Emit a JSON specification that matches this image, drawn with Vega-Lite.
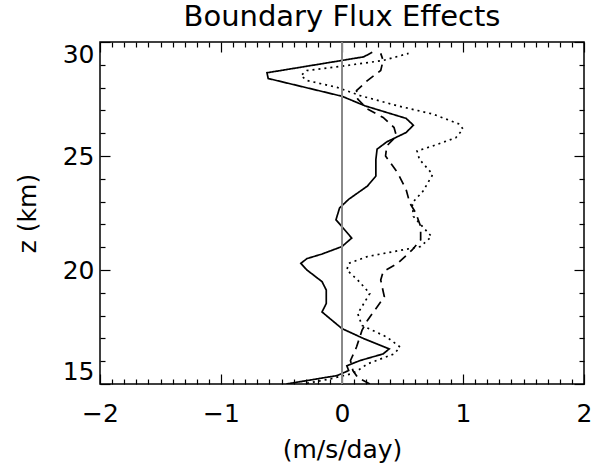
{
  "$schema": "https://vega.github.io/schema/vega-lite/v6.json",
  "width": 484,
  "height": 342,
  "autosize": "none",
  "padding": {"left": 100, "top": 42, "right": 16, "bottom": 81},
  "background": "white",
  "title": {"text": "Boundary Flux Effects", "fontSize": 29, "font": "DejaVu Sans", "fontWeight": "normal", "color": "black", "offset": 9},
  "config": {
    "view": {"stroke": "black", "strokeWidth": 1.5},
    "axis": {"domain": false, "grid": false, "tickColor": "black", "tickWidth": 1.2, "labelColor": "black", "titleColor": "black", "labelFont": "DejaVu Sans", "titleFont": "DejaVu Sans", "labelFontSize": 25, "titleFontSize": 25, "titleFontWeight": "normal"}
  },
  "datasets": {
    "curves": [
      {"s": "solid", "z": 29.55, "x": 0.25},
      {"s": "solid", "z": 29.35, "x": 0.18},
      {"s": "solid", "z": 29.2, "x": 0.01},
      {"s": "solid", "z": 28.65, "x": -0.62},
      {"s": "solid", "z": 28.4, "x": -0.61},
      {"s": "solid", "z": 27.62, "x": 0.0},
      {"s": "solid", "z": 27.2, "x": 0.19},
      {"s": "solid", "z": 26.65, "x": 0.53},
      {"s": "solid", "z": 26.35, "x": 0.59},
      {"s": "solid", "z": 26.03, "x": 0.53},
      {"s": "solid", "z": 25.62, "x": 0.37},
      {"s": "solid", "z": 25.3, "x": 0.29},
      {"s": "solid", "z": 24.85, "x": 0.28},
      {"s": "solid", "z": 24.12, "x": 0.28},
      {"s": "solid", "z": 23.68, "x": 0.21},
      {"s": "solid", "z": 23.1, "x": 0.055},
      {"s": "solid", "z": 22.72, "x": -0.02},
      {"s": "solid", "z": 22.2, "x": -0.05},
      {"s": "solid", "z": 21.9, "x": 0.0},
      {"s": "solid", "z": 21.4, "x": 0.08},
      {"s": "solid", "z": 21.03, "x": 0.0},
      {"s": "solid", "z": 20.7, "x": -0.165},
      {"s": "solid", "z": 20.5, "x": -0.29},
      {"s": "solid", "z": 20.29, "x": -0.34},
      {"s": "solid", "z": 20.0, "x": -0.29},
      {"s": "solid", "z": 19.49, "x": -0.165},
      {"s": "solid", "z": 19.12, "x": -0.13},
      {"s": "solid", "z": 18.53, "x": -0.13},
      {"s": "solid", "z": 18.16, "x": -0.165},
      {"s": "solid", "z": 17.87, "x": -0.1},
      {"s": "solid", "z": 17.43, "x": 0.0},
      {"s": "solid", "z": 16.99, "x": 0.18},
      {"s": "solid", "z": 16.54, "x": 0.39},
      {"s": "solid", "z": 16.32, "x": 0.34},
      {"s": "solid", "z": 16.03, "x": 0.15},
      {"s": "solid", "z": 15.8, "x": 0.04},
      {"s": "solid", "z": 15.59, "x": 0.055},
      {"s": "solid", "z": 15.37, "x": -0.04},
      {"s": "solid", "z": 15.15, "x": -0.29},
      {"s": "solid", "z": 15.0, "x": -0.46},
      {"s": "dashed", "z": 29.5, "x": 0.32},
      {"s": "dashed", "z": 29.19, "x": 0.34},
      {"s": "dashed", "z": 28.75, "x": 0.32},
      {"s": "dashed", "z": 28.31, "x": 0.21},
      {"s": "dashed", "z": 27.87, "x": 0.12},
      {"s": "dashed", "z": 27.5, "x": 0.13},
      {"s": "dashed", "z": 27.06, "x": 0.21},
      {"s": "dashed", "z": 26.69, "x": 0.34},
      {"s": "dashed", "z": 26.25, "x": 0.43},
      {"s": "dashed", "z": 25.88, "x": 0.45},
      {"s": "dashed", "z": 25.44, "x": 0.37},
      {"s": "dashed", "z": 25.0, "x": 0.36},
      {"s": "dashed", "z": 24.26, "x": 0.46},
      {"s": "dashed", "z": 23.53, "x": 0.53},
      {"s": "dashed", "z": 22.94, "x": 0.56},
      {"s": "dashed", "z": 22.5, "x": 0.61},
      {"s": "dashed", "z": 21.91, "x": 0.65},
      {"s": "dashed", "z": 21.32, "x": 0.65},
      {"s": "dashed", "z": 20.88, "x": 0.58},
      {"s": "dashed", "z": 20.29, "x": 0.46},
      {"s": "dashed", "z": 19.93, "x": 0.34},
      {"s": "dashed", "z": 19.56, "x": 0.32},
      {"s": "dashed", "z": 18.82, "x": 0.35},
      {"s": "dashed", "z": 18.38, "x": 0.29},
      {"s": "dashed", "z": 17.79, "x": 0.21},
      {"s": "dashed", "z": 17.35, "x": 0.165},
      {"s": "dashed", "z": 16.62, "x": 0.12},
      {"s": "dashed", "z": 16.03, "x": 0.07},
      {"s": "dashed", "z": 15.59, "x": 0.09},
      {"s": "dashed", "z": 15.29, "x": 0.13},
      {"s": "dashed", "z": 15.0, "x": 0.23},
      {"s": "dotted", "z": 29.5, "x": 0.55},
      {"s": "dotted", "z": 29.19, "x": 0.34},
      {"s": "dotted", "z": 28.97, "x": 0.04},
      {"s": "dotted", "z": 28.75, "x": -0.29},
      {"s": "dotted", "z": 28.53, "x": -0.34},
      {"s": "dotted", "z": 28.31, "x": -0.29},
      {"s": "dotted", "z": 28.01, "x": -0.04},
      {"s": "dotted", "z": 27.65, "x": 0.15},
      {"s": "dotted", "z": 27.2, "x": 0.46},
      {"s": "dotted", "z": 26.84, "x": 0.75},
      {"s": "dotted", "z": 26.4, "x": 0.97},
      {"s": "dotted", "z": 26.18, "x": 1.0},
      {"s": "dotted", "z": 25.8, "x": 0.94},
      {"s": "dotted", "z": 25.44, "x": 0.75},
      {"s": "dotted", "z": 25.22, "x": 0.62},
      {"s": "dotted", "z": 24.85, "x": 0.64},
      {"s": "dotted", "z": 24.19, "x": 0.75},
      {"s": "dotted", "z": 23.46, "x": 0.67},
      {"s": "dotted", "z": 22.94, "x": 0.58},
      {"s": "dotted", "z": 22.35, "x": 0.59},
      {"s": "dotted", "z": 21.76, "x": 0.69},
      {"s": "dotted", "z": 21.47, "x": 0.74},
      {"s": "dotted", "z": 21.03, "x": 0.65},
      {"s": "dotted", "z": 20.59, "x": 0.21},
      {"s": "dotted", "z": 20.29, "x": 0.055},
      {"s": "dotted", "z": 20.0, "x": 0.04},
      {"s": "dotted", "z": 19.56, "x": 0.13},
      {"s": "dotted", "z": 18.97, "x": 0.23},
      {"s": "dotted", "z": 18.53, "x": 0.18},
      {"s": "dotted", "z": 18.09, "x": 0.13},
      {"s": "dotted", "z": 17.57, "x": 0.165},
      {"s": "dotted", "z": 17.06, "x": 0.37},
      {"s": "dotted", "z": 16.62, "x": 0.48},
      {"s": "dotted", "z": 16.32, "x": 0.43},
      {"s": "dotted", "z": 15.88, "x": 0.21},
      {"s": "dotted", "z": 15.59, "x": 0.13},
      {"s": "dotted", "z": 15.44, "x": 0.07},
      {"s": "dotted", "z": 15.22, "x": -0.1},
      {"s": "dotted", "z": 15.03, "x": -0.29}
    ]
  },
  "data": {"name": "curves"},
  "layer": [
    {
      "mark": {"type": "line", "color": "black", "strokeWidth": 1.7, "clip": true},
      "encoding": {
        "x": {"field": "x", "type": "quantitative", "scale": {"domain": [-2, 2], "nice": false, "zero": false},
              "axis": {"orient": "bottom", "values": [-2, -1, 0, 1, 2], "tickSize": -10, "labelPadding": 27, "labelFlush": false, "title": "(m/s/day)", "titlePadding": 11}},
        "y": {"field": "z", "type": "quantitative", "scale": {"domain": [15, 30], "nice": false, "zero": false},
              "axis": {"orient": "left", "values": [15, 20, 25, 30], "tickSize": -10, "labelPadding": 16, "labelFlush": true, "title": "z (km)", "titlePadding": 22}},
        "strokeDash": {"field": "s", "type": "nominal", "scale": {"domain": ["solid", "dashed", "dotted"], "range": [[1, 0], [9, 6], [2, 4]]}, "legend": null},
        "order": {"field": "z", "type": "quantitative"}
      }
    },
    {
      "mark": {"type": "rule", "color": "#888888", "strokeWidth": 1},
      "encoding": {
        "x": {"datum": 0, "type": "quantitative", "axis": {"orient": "top", "values": [-2, -1, 0, 1, 2], "tickSize": -10, "labels": false, "title": null}},
        "y": {"datum": 15, "type": "quantitative", "axis": {"orient": "right", "values": [15, 20, 25, 30], "tickSize": -10, "labels": false, "title": null}},
        "y2": {"datum": 30}
      }
    },
    {
      "mark": {"type": "point", "opacity": 0},
      "encoding": {
        "x": {"field": "x", "type": "quantitative", "axis": {"orient": "bottom", "values": [-1.9, -1.8, -1.7, -1.6, -1.5, -1.4, -1.3, -1.2, -1.1, -0.9, -0.8, -0.7, -0.6, -0.5, -0.4, -0.3, -0.2, -0.1, 0.1, 0.2, 0.3, 0.4, 0.5, 0.6, 0.7, 0.8, 0.9, 1.1, 1.2, 1.3, 1.4, 1.5, 1.6, 1.7, 1.8, 1.9], "tickSize": -5, "labels": false, "title": null}},
        "y": {"field": "z", "type": "quantitative", "axis": {"orient": "left", "values": [16, 17, 18, 19, 21, 22, 23, 24, 26, 27, 28, 29], "tickSize": -5, "labels": false, "title": null}}
      }
    },
    {
      "mark": {"type": "point", "opacity": 0},
      "encoding": {
        "x": {"field": "x", "type": "quantitative", "axis": {"orient": "top", "values": [-1.9, -1.8, -1.7, -1.6, -1.5, -1.4, -1.3, -1.2, -1.1, -0.9, -0.8, -0.7, -0.6, -0.5, -0.4, -0.3, -0.2, -0.1, 0.1, 0.2, 0.3, 0.4, 0.5, 0.6, 0.7, 0.8, 0.9, 1.1, 1.2, 1.3, 1.4, 1.5, 1.6, 1.7, 1.8, 1.9], "tickSize": -5, "labels": false, "title": null}},
        "y": {"field": "z", "type": "quantitative", "axis": {"orient": "right", "values": [16, 17, 18, 19, 21, 22, 23, 24, 26, 27, 28, 29], "tickSize": -5, "labels": false, "title": null}}
      }
    }
  ],
  "resolve": {"axis": {"x": "independent", "y": "independent"}}
}
